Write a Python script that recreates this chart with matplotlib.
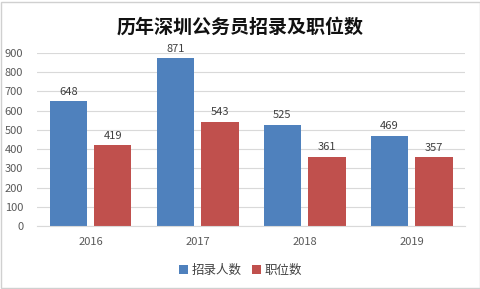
import numpy as np
import matplotlib.pyplot as plt
from matplotlib.patches import Rectangle

plt.rcParams['font.family'] = ['Noto Sans CJK SC', 'DejaVu Sans']

# data
years = ['2016', '2017', '2018', '2019']
recruits = [648, 871, 525, 469]
positions = [419, 543, 361, 357]
series_names = ['招录人数', '职位数']
yticks = [0, 100, 200, 300, 400, 500, 600, 700, 800, 900]

blue = '#4F81BD'
red = '#C0504D'

fig = plt.figure(figsize=(4.81, 2.89), dpi=100)
ax = fig.add_axes([0.077, 0.218, 0.89, 0.599])

x = np.arange(len(years))
w = 0.35
gap = 0.065
b1 = ax.bar(x - w / 2 - gap / 2, recruits, w, color=blue, label=series_names[0], zorder=2)
b2 = ax.bar(x + w / 2 + gap / 2, positions, w, color=red, label=series_names[1], zorder=2)

for bars in (b1, b2):
    for r in bars:
        ax.text(r.get_x() + r.get_width() / 2, r.get_height() + 25, str(int(r.get_height())),
                ha='center', va='bottom', fontsize=8, color='#404040', clip_on=False)

ax.set_xlim(-0.5, len(years) - 0.5)
ax.set_ylim(0, 900)
ax.set_yticks(yticks)
ax.set_xticks(x)
ax.set_xticklabels(years)
ax.tick_params(axis='both', length=0, labelsize=8, colors='#595959')
ax.tick_params(axis='y', pad=10)
ax.tick_params(axis='x', pad=8)
ax.grid(axis='y', color='#D9D9D9', linewidth=0.8, zorder=0)
for s in ax.spines.values():
    s.set_visible(False)
ax.spines['bottom'].set_visible(True)
ax.spines['bottom'].set_color('#D9D9D9')

fig.text(0.5, 0.905, '历年深圳公务员招录及职位数', ha='center', va='center',
         fontsize=13.7, fontweight='bold', color='#111111')

fig.legend(loc='center', bbox_to_anchor=(0.5, 0.065), ncol=2, frameon=False,
           fontsize=9, handlelength=0.7, handleheight=0.7, handletextpad=0.3,
           columnspacing=0.8, labelcolor='#404040')

# light outer frame
fig.patches.append(Rectangle((0.002, 0.004), 0.995, 0.99, transform=fig.transFigure,
                             fill=False, edgecolor='#D0D0D0', linewidth=1))

fig.savefig('out.png', dpi=100)
